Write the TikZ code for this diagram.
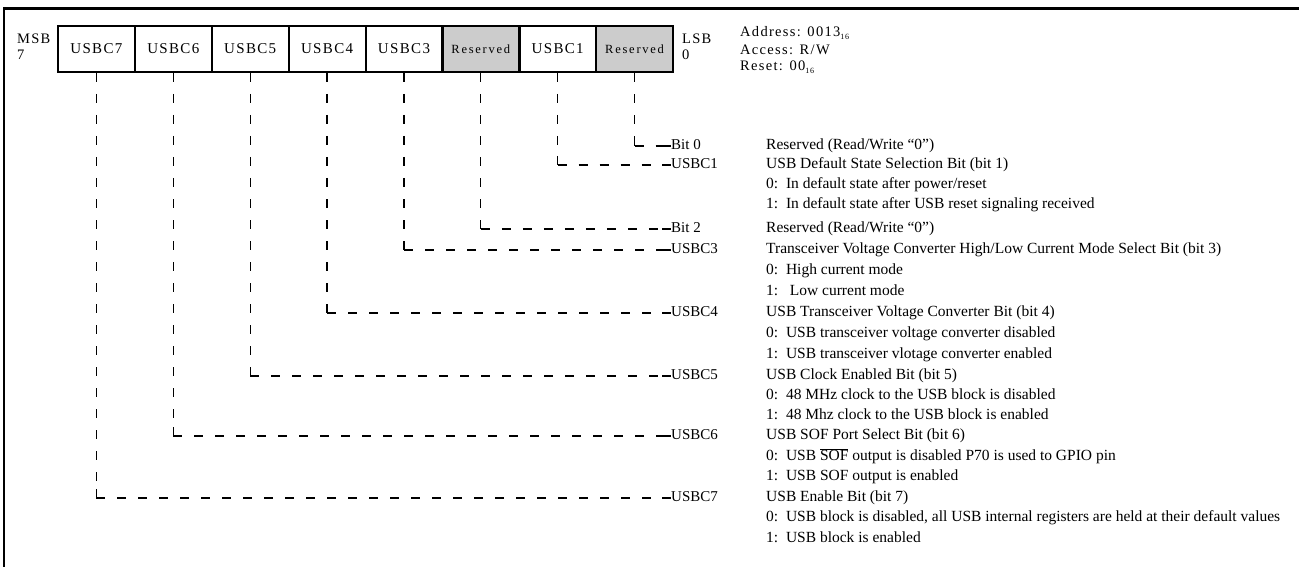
\documentclass[tikz,border=0pt]{standalone}
\usepackage{fontspec}
\usetikzlibrary{calc}
\setmainfont{Liberation Serif}
\newfontfamily\trackfont[LetterSpace=9]{Liberation Serif}
\newfontfamily\trackwide[LetterSpace=14]{Liberation Serif}
\newcommand{\subsx}[1]{\raisebox{-3.5pt}{\fontsize{8}{8}\selectfont #1}}
\begin{document}
\begin{tikzpicture}[x=1pt,y=-1pt,
  regbox/.style={draw, line width=2, minimum width=76.9, minimum height=46, inner sep=0, font=\trackfont\fontsize{15}{18}\selectfont},
  resbox/.style={regbox, fill=gray!40, line width=2.6, font=\trackwide\fontsize{12.5}{14}\selectfont},
  dl/.style={line width=1.3, dash pattern=on 9 off 12},
  sl/.style={line width=1.3},
  lab/.style={anchor=west, inner sep=0, text height=10.5, text depth=3.5, font=\fontsize{15}{18}\selectfont},
  desc/.style={anchor=west, inner sep=0, text height=10.5, text depth=3.5, font=\fontsize{15.5}{18}\selectfont},
  side/.style={anchor=west, inner sep=0, align=left, font=\trackfont\fontsize{14.5}{17}\selectfont}]
\useasboundingbox (0,0) rectangle (1299,567);
% frame
\draw[line width=3] (3,9) -- (1299,9);
\draw[line width=2.5] (4,8) -- (4,567);
% register boxes
\node[regbox] (b7) at (96.4,49) {USBC7};
\node[regbox] (b6) at (173.3,49) {USBC6};
\node[regbox] (b5) at (250.2,49) {USBC5};
\node[regbox] (b4) at (327.1,49) {USBC4};
\node[regbox] (b3) at (404.0,49) {USBC3};
\node[resbox] (b2) at (480.8,49) {Reserved};
\node[regbox] (b1) at (557.7,49) {USBC1};
\node[resbox] (b0) at (634.6,49) {Reserved};
% MSB / LSB
\node[side] (msb) at (17,47) {MSB\\[-1pt]7};
\node[side] (lsb) at (682,47) {LSB\\[-1pt]0};
% register info
\node[side] (addr) at (740,33) {Address: 0013\subsx{16}};
\node[side] (acc) at (740,50) {Access: R/W};
\node[side] (rst) at (740,67) {Reset: 00\subsx{16}};
% bit labels
\node[lab] (l0) at (671,146) {Bit 0};
\node[lab] (l1) at (671,165) {USBC1};
\node[lab] (l2) at (671,229) {Bit 2};
\node[lab] (l3) at (671,250) {USBC3};
\node[lab] (l4) at (671,313) {USBC4};
\node[lab] (l5) at (671,376) {USBC5};
\node[lab] (l6) at (671,436) {USBC6};
\node[lab] (l7) at (671,498) {USBC7};
% connectors
\foreach \i in {0,...,7}{
  \coordinate (c\i) at (b\i.south |- l\i.west);
  \draw[dl] (b\i.south) -- (c\i);
  \draw[dl] (c\i) -- (l\i.west);
  \draw[sl] ($(c\i)+(0,-9)$) -- (c\i);
  \draw[sl] ($(l\i.west)+(-9,0)$) -- (l\i.west);
}
% descriptions
\node[desc] (d01) at (766,146) {Reserved (Read/Write “0”)};
\node[desc] (d02) at (766,165) {USB Default State Selection Bit (bit 1)};
\node[desc] (d03) at (766,185) {0:\ \ In default state after power/reset};
\node[desc] (d04) at (766,205) {1:\ \ In default state after USB reset signaling received};
\node[desc] (d05) at (766,229) {Reserved (Read/Write “0”)};
\node[desc] (d06) at (766,250) {Transceiver Voltage Converter High/Low Current Mode Select Bit (bit 3)};
\node[desc] (d07) at (766,271) {0:\ \ High current mode};
\node[desc] (d08) at (766,292) {1:\ \ \ Low current mode};
\node[desc] (d09) at (766,313) {USB Transceiver Voltage Converter Bit (bit 4)};
\node[desc] (d10) at (766,334) {0:\ \ USB transceiver voltage converter disabled};
\node[desc] (d11) at (766,355) {1:\ \ USB transceiver vlotage converter enabled};
\node[desc] (d12) at (766,376) {USB Clock Enabled Bit (bit 5)};
\node[desc] (d13) at (766,396) {0:\ \ 48 MHz clock to the USB block is disabled};
\node[desc] (d14) at (766,416) {1:\ \ 48 Mhz clock to the USB block is enabled};
\node[desc] (d15) at (766,436) {USB SOF Port Select Bit (bit 6)};
\node[desc] (d16) at (766,457) {0:\ \ USB $\overline{\mbox{SOF}}$ output is disabled P70 is used to GPIO pin};
\node[desc] (d17) at (766,477) {1:\ \ USB SOF output is enabled};
\node[desc] (d18) at (766,498) {USB Enable Bit (bit 7)};
\node[desc] (d19) at (766,518) {0:\ \ USB block is disabled, all USB internal registers are held at their default values};
\node[desc] (d20) at (766,539) {1:\ \ USB block is enabled};
\end{tikzpicture}
\end{document}
